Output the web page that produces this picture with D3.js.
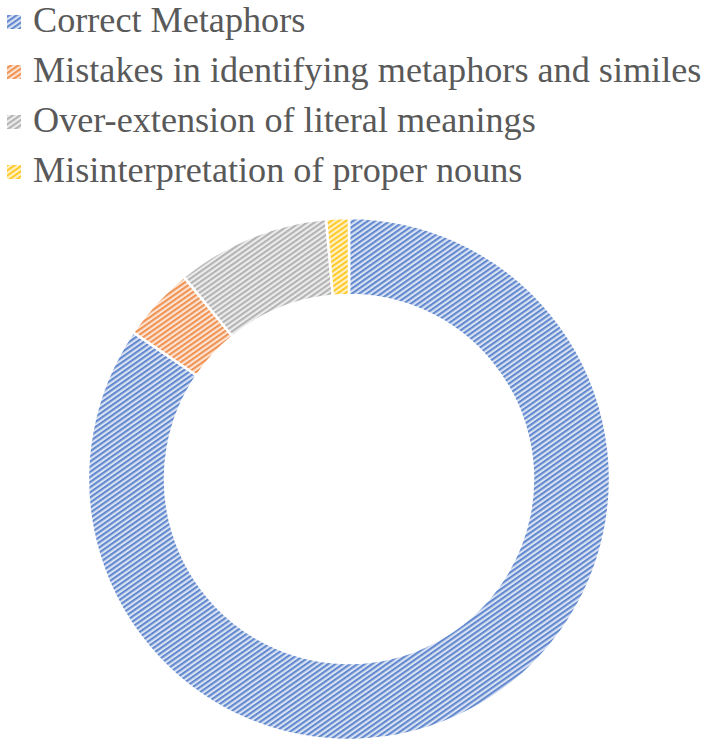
<!DOCTYPE html>
<html>
<head>
<meta charset="utf-8">
<script src="https://cdn.jsdelivr.net/npm/d3@7.9.0/dist/d3.min.js"></script>
<style>
  html, body { margin: 0; padding: 0; background: #fff; }
  svg { display: block; }
</style>
</head>
<body>
<svg id="chart" width="708" height="746"></svg>
<script>
// data (share of answers, %)
const categories = [
  'Correct Metaphors',
  'Mistakes in identifying metaphors and similes',
  'Over-extension of literal meanings',
  'Misinterpretation of proper nouns'
];
const values = [84.5, 4.6, 9.5, 1.4];
const colors = ['#4472C4', '#ED7D31', '#A5A5A5', '#FFC000'];

const width = 708, height = 746;
const cx = 349, cy = 479;
const outerR = 261, innerR = 184;

const svg = d3.select('#chart');
const defs = svg.append('defs');

// striped fills like Excel's "wide upward diagonal"
colors.forEach((c, i) => {
  const light = d3.interpolateRgb(c, '#fff')(0.8);
  const p = defs.append('pattern')
    .attr('id', 'hatch' + i)
    .attr('patternUnits', 'userSpaceOnUse')
    .attr('width', 4)
    .attr('height', 4.2)
    .attr('patternTransform', 'rotate(-35)');
  p.append('rect').attr('width', 4).attr('height', 4.2).attr('fill', light);
  p.append('rect').attr('width', 4).attr('height', 2.1).attr('fill', c).attr('fill-opacity', 0.8);
});

const pie = d3.pie().sort(null).value(d => d);
const arc = d3.arc().innerRadius(innerR).outerRadius(outerR);

const ring = svg.append('g').attr('transform', `translate(${cx},${cy})`);
ring.selectAll('path')
  .data(pie(values))
  .join('path')
  .attr('d', arc)
  .attr('fill', (d, i) => `url(#hatch${i})`)
  .attr('stroke', '#fff')
  .attr('stroke-width', 2.5);

// legend
const legend = svg.append('g');
categories.forEach((name, i) => {
  const y = 32 + i * 50;
  legend.append('rect')
    .attr('x', 7).attr('y', y - 17)
    .attr('width', 14).attr('height', 14)
    .attr('fill', `url(#hatch${i})`);
  legend.append('text')
    .attr('x', 33).attr('y', y)
    .attr('font-family', '"Liberation Serif", "Times New Roman", serif')
    .attr('font-size', 36.2)
    .attr('fill', '#595959')
    .text(name);
});
</script>
</body>
</html>
